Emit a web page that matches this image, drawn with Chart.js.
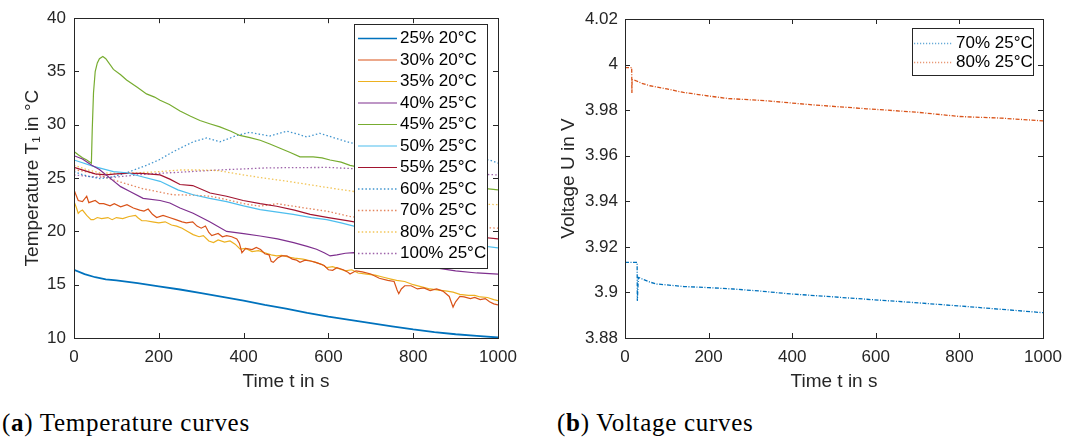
<!DOCTYPE html>
<html>
<head>
<meta charset="utf-8">
<script src="https://cdn.jsdelivr.net/npm/chart.js@4.4.1/dist/chart.umd.min.js"></script>
<style>
  html, body { margin: 0; padding: 0; background: #fff; }
  body { width: 1078px; height: 439px; position: relative; overflow: hidden; }
  .panel { position: absolute; top: 0; }
  .caption { position: absolute; top: 409px; font-family: "Liberation Serif", serif; font-size: 25px; letter-spacing: 0.7px; color: #000; white-space: nowrap; }
</style>
</head>
<body>
<div class="panel" style="left:0"><canvas id="tempChart" width="530" height="400"></canvas></div>
<div class="panel" style="left:540px"><canvas id="voltChart" width="538" height="400"></canvas></div>
<div class="caption" style="left:2px">(<b>a</b>) Temperature curves</div>
<div class="caption" style="left:557px">(<b>b</b>) Voltage curves</div>
<script>
// tick values
const timeTicks = [0, 200, 400, 600, 800, 1000];
const tempTicks = [10, 15, 20, 25, 30, 35, 40];
const voltTicks = [3.88, 3.9, 3.92, 3.94, 3.96, 3.98, 4.0, 4.02];

// temperature curves (time in s, T1 in °C)
const time25 = [0,25,50,75,100,150,200,250,300,350,400,450,500,550,600,650,700,750,800,850,900,950,1000];
const temp25 = [16.4,16.0,15.7,15.5,15.4,15.15,14.85,14.55,14.2,13.85,13.5,13.1,12.75,12.35,12.0,11.7,11.4,11.1,10.8,10.55,10.35,10.2,10.05];

const time30 = [0,5,10,20,30,35,50,60,70,85,95,110,125,140,155,165,175,185,195,210,225,240,255,265,280,290,300,310,318,325,340,350,360,372,384,390,396,405,420,430,440,450,460,465,470,480,490,502,515,525,533,545,560,570,580,590,600,610,620,635,645,651,665,680,700,720,740,755,762,766,772,780,795,810,825,840,855,870,885,894,900,910,920,935,945,958,970,980,990,1000];
const temp30 = [23.9,23.4,22.9,22.8,23.3,22.7,22.9,22.6,22.6,22.4,22.6,22.3,22.5,22.2,22.0,21.9,22.1,21.6,21.3,21.5,21.3,21.1,20.9,20.8,20.9,20.5,20.3,20.5,19.9,19.6,19.8,19.5,19.6,19.5,19.3,18.9,18.0,18.4,18.3,18.5,18.3,17.9,17.8,17.2,17.1,17.5,17.7,17.7,17.4,17.3,17.1,17.3,17.2,17.1,16.95,16.8,16.4,16.35,16.6,16.4,16.2,16.0,16.3,16.2,16.0,15.6,15.4,15.3,14.5,14.15,14.6,14.9,14.9,14.6,14.7,14.45,14.6,14.4,13.9,12.9,13.4,13.9,13.85,13.7,13.8,13.6,13.7,13.4,13.2,13.1];

const time35 = [0,5,10,15,20,30,40,46,55,65,80,90,100,115,130,145,150,160,170,185,200,215,230,242,255,268,281,295,305,318,329,340,355,368,380,392,405,420,435,450,465,478,490,505,520,540,557,570,585,596,610,625,640,655,670,690,710,730,750,761,780,800,820,840,860,880,894,910,930,945,958,975,990,1000];
const temp35 = [22.8,22.3,21.7,21.9,22.0,21.5,21.1,21.1,21.3,21.2,21.3,21.1,21.3,21.2,21.4,21.5,21.3,21.0,21.0,20.9,20.8,20.9,20.6,20.5,20.3,20.0,19.7,19.5,19.6,19.1,18.95,19.2,19.0,19.1,18.8,18.33,18.4,18.1,18.2,18.0,17.8,17.7,17.75,17.6,17.5,17.4,17.25,17.1,16.9,16.6,16.7,16.5,16.3,16.4,16.1,16.0,15.9,15.7,15.5,15.4,15.3,15.0,14.8,14.6,14.5,14.4,14.3,14.1,14.0,14.0,13.85,13.8,13.6,13.5];

const time40 = [0,20,42,60,85,110,132,163,203,226,250,281,320,360,400,439,480,518,550,572,590,604,620,640,660,680,700,750,800,850,900,950,1000];
const temp40 = [27.1,26.8,26.2,25.8,25.0,24.2,23.75,23.1,22.9,22.66,22.2,21.7,20.9,20.0,19.8,19.57,19.3,18.95,18.6,18.33,18.0,17.7,17.8,17.95,18.0,17.9,17.6,17.3,17.0,16.6,16.3,16.1,16.0];

const time45 = [0,10,20,30,41,43,46,50,55,60,68,75,93,110,124,150,171,190,203,225,250,275,297,320,344,370,391,415,439,462,486,510,533,564,585,604,630,651,700,750,800,850,900,950,1000];
const temp45 = [27.5,27.2,26.9,26.7,26.4,29.5,33.0,35.0,35.8,36.2,36.4,36.2,35.2,34.7,34.2,33.5,32.9,32.6,32.3,31.9,31.3,30.8,30.4,30.1,29.8,29.4,29.0,28.8,28.55,28.2,27.8,27.4,27.0,27.0,26.9,26.7,26.5,26.2,25.8,25.4,25.0,24.7,24.4,24.1,23.9];

const time50 = [0,46,93,124,163,203,245,281,320,360,400,439,480,517,560,596,630,660,700,750,800,850,900,950,1000];
const temp50 = [26.7,26.1,25.6,25.5,25.1,24.7,23.9,23.44,23.1,22.8,22.4,22.05,21.8,21.6,21.3,21.1,20.8,20.5,20.1,19.8,19.5,19.2,18.9,18.7,18.45];

const time55 = [0,25,50,75,100,124,160,203,226,250,280,321,360,399,439,478,520,557,600,651,700,750,800,850,900,950,1000];
const temp55 = [26.0,25.7,25.4,25.3,25.4,25.45,25.45,25.3,24.9,24.4,24.3,23.6,23.3,22.9,22.6,22.36,22.0,21.6,21.3,20.97,20.6,20.3,20.1,19.9,19.7,19.5,19.3];

const time60 = [0,30,61,90,124,171,200,226,250,281,313,344,384,415,440,462,502,530,549,580,620,651,700,750,800,850,900,950,980,1000];
const temp60 = [25.6,25.2,24.95,25.1,25.5,26.2,26.7,27.3,27.8,28.4,28.77,28.4,29.0,29.3,29.1,28.95,29.4,29.1,28.86,29.2,28.7,28.33,27.9,27.6,27.4,27.2,27.0,26.8,26.7,26.4];

const time70 = [0,40,80,120,163,200,234,280,321,360,400,439,478,518,560,596,651,700,750,800,850,900,950,1000];
const temp70 = [25.8,25.5,25.0,24.5,24.0,23.7,23.44,23.4,23.3,22.98,22.6,22.36,22.6,22.36,22.1,21.9,21.4,21.1,20.9,20.7,20.6,20.5,20.4,20.3];

const time80 = [0,30,60,100,150,200,250,300,340,370,399,440,478,520,557,600,651,700,750,800,850,900,950,1000];
const temp80 = [26.2,25.8,25.5,25.45,25.5,25.6,25.76,25.76,25.7,25.5,25.3,25.05,24.84,24.6,24.37,24.1,23.8,23.5,23.2,23.0,22.8,22.7,22.6,22.5];

const time100 = [0,50,100,150,200,250,300,350,400,450,500,600,651,700,800,900,1000];
const temp100 = [25.3,25.1,25.1,25.3,25.45,25.55,25.67,25.78,25.86,25.95,25.98,26.0,25.9,25.8,25.6,25.45,25.3];

// voltage curves (time in s, U in V)
const timeV70 = [0,28,29,29.5,32,40,60,76,100,140,200,259,330,399,480,578,680,797,900,1000];
const volt70 = [3.9132,3.9132,3.9132,3.8963,3.9066,3.9060,3.9045,3.9037,3.9033,3.9026,3.9021,3.9015,3.9005,3.8993,3.8983,3.8970,3.8957,3.8941,3.8926,3.8911];
const timeV80 = [0,16,16.5,17,25,40,60,100,140,200,247,339,450,578,698,801,900,1000];
const volt80 = [3.9987,3.9987,3.9875,3.9934,3.9930,3.9918,3.9907,3.9893,3.9878,3.9862,3.9851,3.9841,3.9823,3.9806,3.9791,3.9772,3.9765,3.9753];

const axisColor = '#262626';
const fontFamily = '"Liberation Sans", Arial, Helvetica, sans-serif';
const tickFont = { family: fontFamily, size: 17 };
const titleFont = { family: fontFamily, size: 19 };

const pts = (ts, vs) => ts.map((t, i) => ({ x: t, y: vs[i] }));

function line(label, ts, vs, color, dashed, width) {
  return {
    label,
    data: pts(ts, vs),
    borderColor: color,
    borderWidth: width || (dashed ? 1.3 : 1.2),
    borderDash: dashed ? [1.5, 2.2] : [],
    pointRadius: 0,
    tension: 0,
    fill: false
  };
}

// box + inward ticks on all four sides, like matlab
const frameTicks = {
  id: 'frameTicks',
  afterDatasetsDraw(chart) {
    const { ctx, chartArea: a, scales: { x, y } } = chart;
    ctx.save();
    ctx.strokeStyle = axisColor;
    ctx.lineWidth = 1;
    ctx.beginPath();
    x.ticks.forEach(t => {
      const px = Math.round(x.getPixelForValue(t.value)) + 0.5;
      ctx.moveTo(px, a.bottom); ctx.lineTo(px, a.bottom - 5);
      ctx.moveTo(px, a.top); ctx.lineTo(px, a.top + 5);
    });
    y.ticks.forEach(t => {
      const py = Math.round(y.getPixelForValue(t.value)) + 0.5;
      ctx.moveTo(a.left, py); ctx.lineTo(a.left + 5, py);
      ctx.moveTo(a.right, py); ctx.lineTo(a.right - 5, py);
    });
    ctx.stroke();
    ctx.strokeRect(Math.round(a.left) + 0.5, Math.round(a.top) + 0.5,
      Math.round(a.right - a.left), Math.round(a.bottom - a.top));
    ctx.restore();
  }
};

// legend box inside the plot
const boxLegend = {
  id: 'boxLegend',
  afterDraw(chart, args, o) {
    const ctx = chart.ctx;
    ctx.save();
    ctx.fillStyle = '#fff';
    ctx.fillRect(o.left, o.top, o.width, o.height);
    ctx.strokeStyle = axisColor;
    ctx.lineWidth = 1;
    ctx.strokeRect(o.left + 0.5, o.top + 0.5, o.width, o.height);
    ctx.font = o.fontSize + 'px ' + fontFamily;
    ctx.textBaseline = 'middle';
    chart.data.datasets.forEach((ds, i) => {
      const y = o.firstRow + i * o.rowHeight;
      ctx.save();
      ctx.strokeStyle = ds.legendColor || ds.borderColor;
      ctx.lineWidth = ds.borderWidth > 1.5 ? 1.3 : ds.borderWidth;
      ctx.setLineDash(ds.legendDash || ds.borderDash || []);
      ctx.beginPath();
      ctx.moveTo(o.lineFrom, y);
      ctx.lineTo(o.lineTo, y);
      ctx.stroke();
      ctx.restore();
      ctx.fillStyle = '#000';
      ctx.fillText(ds.label, o.textX, y);
    });
    ctx.restore();
  }
};

function axes(xTicks, yTicks, yMin, yMax, yTitle, yWidth, yTitlePad, yLabelPad, fmt) {
  return {
    x: {
      type: 'linear', min: 0, max: 1000,
      afterBuildTicks: s => { s.ticks = xTicks.map(v => ({ value: v })); },
      afterFit: s => { s.height = 62; },
      grid: { display: false, drawTicks: false },
      border: { display: false },
      ticks: { color: axisColor, font: tickFont, padding: 9, maxRotation: 0, callback: v => String(v) },
      title: { display: true, text: 'Time t in s', color: axisColor, font: titleFont, padding: { top: 0, bottom: 7 } }
    },
    y: {
      type: 'linear', min: yMin, max: yMax,
      afterBuildTicks: s => { s.ticks = yTicks.map(v => ({ value: v })); },
      afterFit: s => { s.width = yWidth; },
      grid: { display: false, drawTicks: false },
      border: { display: false },
      ticks: { color: axisColor, font: tickFont, padding: yLabelPad, callback: fmt },
      title: { display: true, text: yTitle, color: axisColor, font: titleFont, padding: { top: yTitlePad, bottom: 0 } }
    }
  };
}

new Chart(document.getElementById('tempChart'), {
  type: 'line',
  data: {
    datasets: [
      line('25% 20°C', time25, temp25, '#0072BD', false, 1.8),
      line('30% 20°C', time30, temp30, '#D95319', false),
      line('35% 20°C', time35, temp35, '#EDB120', false),
      line('40% 25°C', time40, temp40, '#7E2F8E', false),
      line('45% 25°C', time45, temp45, '#77AC30', false),
      line('50% 25°C', time50, temp50, '#4DBEEE', false),
      line('55% 25°C', time55, temp55, '#A2142F', false),
      line('60% 25°C', time60, temp60, 'rgba(0,114,189,0.75)', true),
      line('70% 25°C', time70, temp70, 'rgba(217,83,25,0.7)', true),
      line('80% 25°C', time80, temp80, 'rgba(237,177,32,0.75)', true),
      line('100% 25°C', time100, temp100, 'rgba(126,47,142,0.75)', true)
    ]
  },
  options: {
    responsive: false,
    animation: false,
    layout: { padding: { left: 0, top: 15, right: 32, bottom: 0 } },
    scales: axes(timeTicks, tempTicks, 10, 40, 'Temperature T\u2081 in °C', 74, 21, 8, v => String(v)),
    plugins: {
      legend: { display: false },
      tooltip: { enabled: false },
      boxLegend: { left: 354, top: 24, width: 133, height: 244, firstRow: 38.5, rowHeight: 21.5,
        lineFrom: 358, lineTo: 397, textX: 400, fontSize: 17 }
    }
  },
  plugins: [frameTicks, boxLegend]
});

const voltFmt = v => String(Math.round(v * 100) / 100);
const v70 = line('70% 25°C', timeV70, volt70, '#0072BD', true);
const v80 = line('80% 25°C', timeV80, volt80, '#D95319', true);
v70.borderDash = v80.borderDash = [4, 1.5, 1, 1.5];
v70.legendDash = v80.legendDash = [1.2, 1.8];
v70.legendColor = 'rgba(0,114,189,0.6)';
v80.legendColor = 'rgba(217,83,25,0.6)';

new Chart(document.getElementById('voltChart'), {
  type: 'line',
  data: { datasets: [v70, v80] },
  options: {
    responsive: false,
    animation: false,
    layout: { padding: { left: 0, top: 19, right: 35, bottom: 0 } },
    scales: axes(timeTicks, voltTicks, 3.88, 4.02, 'Voltage U in V', 85, 17, 7, voltFmt),
    plugins: {
      legend: { display: false },
      tooltip: { enabled: false },
      boxLegend: { left: 372, top: 28, width: 121, height: 47, firstRow: 43.5, rowHeight: 19,
        lineFrom: 374, lineTo: 412, textX: 416, fontSize: 17 }
    }
  },
  plugins: [frameTicks, boxLegend]
});
</script>
</body>
</html>
